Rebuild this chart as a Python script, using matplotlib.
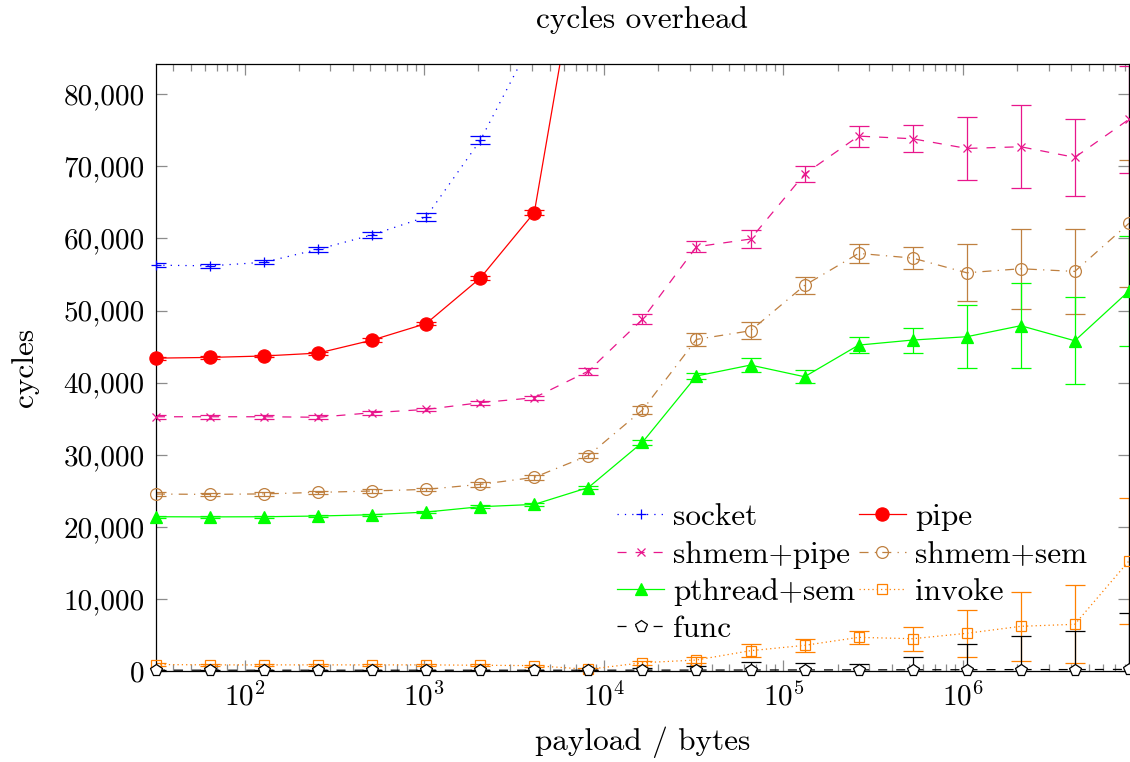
import numpy as np
import matplotlib
matplotlib.use('Agg')
import matplotlib.pyplot as plt
from matplotlib.lines import Line2D
from matplotlib.ticker import FuncFormatter, LogLocator, LogFormatterMathtext, MultipleLocator

plt.rcParams['font.family'] = 'serif'
plt.rcParams['font.serif'] = ['cmr10']
plt.rcParams['mathtext.fontset'] = 'cm'
plt.rcParams['axes.formatter.use_mathtext'] = True
plt.rcParams['lines.scale_dashes'] = False

# payload sizes in bytes
sizes = [32, 64, 128, 256, 512, 1024, 2048, 4096, 8192, 16384, 32768, 65536,
         131072, 262144, 524288, 1048576, 2097152, 4194304, 8388608]

socket = [56300, 56200, 56700, 58500, 60500, 63000, 73600, 88000]
socket_err = [250, 300, 300, 350, 400, 550, 550, 600]

pipe = [43400, 43500, 43700, 44100, 45900, 48200, 54500, 63600, 107000]
pipe_err = [200, 200, 200, 200, 250, 250, 300, 400, 500]

shmem_pipe = [35270, 35270, 35270, 35200, 35830, 36290, 37220, 37910, 41600, 48780,
              58850, 59920, 68930, 74200, 73830, 72490, 72720, 71250, 76520]
shmem_pipe_err = [250, 250, 250, 250, 250, 250, 300, 300, 490, 690,
                  760, 1290, 1160, 1460, 1870, 4350, 5780, 5360, 7400]

shmem_sem = [24550, 24500, 24570, 24780, 24970, 25200, 25890, 26860, 29890, 36200,
             46000, 47200, 53490, 57930, 57280, 55240, 55800, 55430, 62090]
shmem_sem_err = [250, 250, 250, 250, 250, 250, 300, 300, 400, 550,
                 920, 1160, 1180, 1360, 1570, 3950, 5520, 5890, 8780]

pthread_sem = [21400, 21380, 21400, 21500, 21680, 22050, 22790, 23110, 25450, 31720,
               40920, 42440, 40820, 45210, 45910, 46370, 47900, 45810, 52700]
pthread_sem_err = [150, 150, 150, 150, 150, 150, 200, 200, 250, 300,
                   350, 970, 920, 1130, 1730, 4370, 5890, 6050, 7600]

invoke = [900, 850, 850, 850, 850, 850, 800, 750, 230, 1150,
          1530, 2820, 3560, 4670, 4480, 5230, 6200, 6480, 15260]
invoke_err = [150, 150, 150, 150, 150, 150, 150, 150, 150, 300,
              400, 860, 920, 920, 1660, 3240, 4830, 5390, 8780]

func = [120, 110, 110, 110, 110, 110, 110, 110, 110, 120,
        130, 140, 150, 160, 170, 180, 200, 200, 220]
func_err = [50, 50, 50, 50, 50, 50, 50, 50, 100, 300,
            600, 1150, 1000, 800, 1760, 3500, 4680, 5310, 7870]

YMAX = 84200

lw = 0.9
dotted = (0, (0.9, 4.4))
dense_dotted = (0, (0.9, 2.2))
dashed = (0, (6.5, 6.5))
dashdot = (0, (6.5, 4.5, 0.9, 4.5))

# name, values, errors, colour, linestyle, marker, size, face
series = [
    ('socket', socket, socket_err, '#0000ff', dotted, '+', 7, None),
    ('pipe', pipe, pipe_err, '#ff0000', '-', 'o', 9.5, '#ff0000'),
    ('shmem+pipe', shmem_pipe, shmem_pipe_err, '#e8168c', dashed, 'x', 6, None),
    ('shmem+sem', shmem_sem, shmem_sem_err, '#bf8040', dashdot, 'o', 8.5, 'none'),
    ('pthread+sem', pthread_sem, pthread_sem_err, '#00ff00', '-', '^', 9, '#00ff00'),
    ('invoke', invoke, invoke_err, '#ff8000', dense_dotted, 's', 7.5, 'none'),
    ('func', func, func_err, '#000000', dashed, 'p', 8.5, 'white'),
]

fig = plt.figure(figsize=(11.3, 7.62), dpi=100)
ax = fig.add_axes([0.138, 0.1194, 0.861, 0.7966])

handles = []
for name, vals, err, col, ls, mk, ms, face in series:
    xs = sizes[:len(vals)]
    fc = col if face is None else face
    # lines and error bars stay inside the axes
    ax.errorbar(xs, vals, yerr=err, color=col, ecolor=col, elinewidth=lw,
                capsize=7, capthick=lw, linewidth=lw, linestyle=ls, marker='none')
    # marks are drawn unclipped, like pgfplots does
    inside = [(x, v) for x, v in zip(xs, vals) if v <= YMAX]
    ax.plot([p[0] for p in inside], [p[1] for p in inside], linestyle='none',
            marker=mk, markersize=ms, markeredgewidth=lw, markerfacecolor=fc,
            markeredgecolor=col, clip_on=False, zorder=3)
    handles.append(Line2D([], [], color=col, linewidth=lw, linestyle=ls, marker=mk,
                          markersize=ms, markeredgewidth=lw, markerfacecolor=fc,
                          markeredgecolor=col, label=name))

ax.set_xscale('log')
ax.set_xlim(32, 8388608)
ax.set_ylim(0, YMAX)

ax.xaxis.set_major_locator(LogLocator(base=10))
ax.xaxis.set_major_formatter(LogFormatterMathtext())
ax.xaxis.set_minor_locator(LogLocator(base=10, subs=np.arange(2, 10)))
ax.yaxis.set_major_locator(MultipleLocator(10000))
ax.yaxis.set_major_formatter(FuncFormatter(lambda v, p: '{:,.0f}'.format(v)))

ax.tick_params(which='both', direction='in', top=True, right=True,
               color='#8c8c8c', width=0.9, labelsize=21)
ax.tick_params(which='major', length=8, pad=8)
ax.tick_params(which='minor', length=5)
ax.tick_params(axis='y', which='minor', left=False, right=False)
for s in ax.spines.values():
    s.set_linewidth(0.9)
    s.set_color('black')
    s.set_zorder(2.5)

ax.set_title('cycles overhead', fontsize=22.5, pad=26)
ax.set_xlabel('payload / bytes', fontsize=22.5, labelpad=11)
ax.set_ylabel('cycles', fontsize=22.5, labelpad=18)

# row-wise order in two columns
order = [0, 2, 4, 6, 1, 3, 5]
ax.legend(handles=[handles[i] for i in order], ncol=2, loc='upper left',
          bbox_to_anchor=(0.474, 0.276), frameon=False, fontsize=22.5,
          handlelength=1.5, handletextpad=0.3, columnspacing=0.1,
          labelspacing=0.3, borderaxespad=0, borderpad=0)

fig.savefig('out.png', dpi=100)
